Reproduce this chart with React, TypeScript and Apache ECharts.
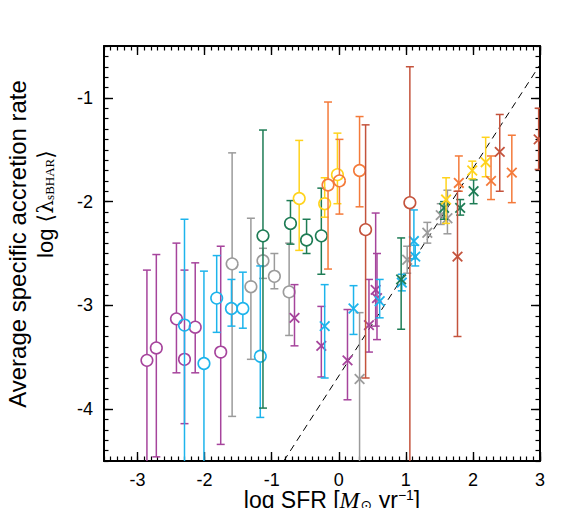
import React, { useEffect, useRef } from "react";
import * as echarts from "echarts";

// ---- axis ranges & ticks ----
const xMin = -3.5;
const xMax = 3;
const yMin = -4.5;
const yMax = -0.5;
const xMajorTicks = [-3, -2, -1, 0, 1, 2, 3];
const yMajorTicks = [-4, -3, -2, -1];

// ---- data: [logSFR, log<lambda>, lower, upper] ----
const purpleCircles = [
  [-2.86, -3.53, -5.0, -2.66],
  [-2.72, -3.41, -4.46, -2.51],
  [-2.42, -3.13, -3.65, -2.4],
  [-2.3, -3.52, -4.14, -2.66],
  [-2.14, -3.21, -3.65, -2.59],
  [-1.76, -3.45, -4.34, -2.43],
];
const purpleCrosses = [
  [-0.66, -3.12, -3.39, -2.8],
  [-0.26, -3.39, -3.69, -3.01],
  [0.13, -3.53, -3.91, -3.04],
  [0.45, -3.19, -3.45, -2.75],
  [0.55, -2.85, -3.2, -2.11],
  [0.57, -2.93, -3.33, -2.5],
];
const cyanCircles = [
  [-2.3, -3.19, -5.0, -2.17],
  [-2.01, -3.56, -5.0, -2.67],
  [-1.82, -2.93, -3.26, -2.52],
  [-1.6, -3.03, -3.2, -2.75],
  [-1.43, -3.03, -3.22, -2.68],
  [-1.17, -3.49, -4.08, -2.62],
];
const cyanCrosses = [
  [-0.21, -3.2, -3.7, -2.8],
  [0.22, -3.03, -3.28, -2.81],
  [0.61, -2.96, -3.12, -2.75],
  [0.94, -2.78, -2.86, -2.7],
  [1.12, -2.38, -2.55, -2.08],
  [1.14, -2.53, -2.62, -2.42],
];
const grayCircles = [
  [-1.59, -2.6, -4.07, -1.53],
  [-1.31, -2.82, -3.52, -2.16],
  [-1.13, -2.57, -2.74, -2.45],
  [-0.96, -2.72, -2.84, -2.5],
  [-0.74, -2.87, -3.29, -2.4],
];
const grayCrosses = [
  [0.31, -3.71, -5.0, -3.07],
  [1.02, -2.56, -2.69, -2.43],
  [1.32, -2.3, -2.4, -2.2],
  [1.52, -2.13, -2.22, -2.02],
  [1.62, -2.16, -2.31, -1.89],
];
const greenCircles = [
  [-1.13, -2.33, -3.99, -1.31],
  [-0.72, -2.21, -2.41, -1.99],
  [-0.48, -2.37, -2.5, -2.17],
  [-0.26, -2.33, -2.7, -1.87],
];
const greenCrosses = [
  [0.93, -2.75, -3.23, -2.35],
  [1.57, -2.06, -2.17, -2.0],
  [1.81, -2.06, -2.13, -1.98],
  [2.01, -1.9, -2.02, -1.79],
];
const yellowCircles = [
  [-0.59, -1.97, -2.47, -1.41],
  [-0.21, -2.02, -2.15, -1.77],
  [-0.02, -1.74, -2.02, -1.34],
];
const yellowCrosses = [
  [1.6, -1.98, -2.21, -1.77],
  [1.99, -1.7, -1.78, -1.61],
  [2.19, -1.62, -1.76, -1.38],
];
const orangeCircles = [
  [-0.16, -1.84, -2.65, -1.04],
  [0.01, -1.8, -2.12, -1.4],
  [0.31, -1.7, -2.05, -1.18],
];
const orangeCrosses = [
  [1.79, -1.82, -1.9, -1.56],
  [2.27, -1.8, -1.98, -1.56],
  [2.58, -1.72, -2.01, -1.36],
];
const brickCircles = [
  [0.4, -2.27, -3.7, -1.26],
  [1.06, -2.01, -5.0, -0.7],
];
const brickCrosses = [
  [1.77, -2.53, -3.3, -1.9],
  [2.4, -1.52, -1.9, -1.16],
  [2.98, -1.4, -1.69, -1.1],
];
// dashed one-to-one relation
const relationX = [-0.82, 3.0];
const relationY = [-4.5, -0.68];

const COLORS = {
  purple: "#A6449C",
  cyan: "#1DB4EC",
  gray: "#9B9B9B",
  green: "#1E7C55",
  yellow: "#FFD31C",
  orange: "#F47A3A",
  brick: "#C4533C",
};

function makeRender(color: string, marker: "circle" | "cross") {
  return (params: any, api: any) => {
    const x = api.value(0);
    const y = api.value(1);
    const lo = api.value(2);
    const hi = api.value(3);
    const c = api.coord([x, y]);
    const pLo = api.coord([x, lo]);
    const pHi = api.coord([x, hi]);
    const cap = 4;
    const r = 5.8;
    const s = 4.8;
    const st = { stroke: color, lineWidth: 1.5, fill: "none" };
    const children: any[] = [];
    if (marker === "circle") {
      children.push({ type: "line", shape: { x1: c[0], y1: pHi[1], x2: c[0], y2: c[1] - r }, style: st });
      children.push({ type: "line", shape: { x1: c[0], y1: c[1] + r, x2: c[0], y2: pLo[1] }, style: st });
    } else {
      children.push({ type: "line", shape: { x1: c[0], y1: pHi[1], x2: c[0], y2: pLo[1] }, style: st });
    }
    children.push({ type: "line", shape: { x1: c[0] - cap, y1: pHi[1], x2: c[0] + cap, y2: pHi[1] }, style: st });
    children.push({ type: "line", shape: { x1: c[0] - cap, y1: pLo[1], x2: c[0] + cap, y2: pLo[1] }, style: st });
    if (marker === "circle") {
      children.push({ type: "circle", shape: { cx: c[0], cy: c[1], r }, style: { stroke: color, lineWidth: 1.6, fill: "none" } });
    } else {
      const cs = { stroke: color, lineWidth: 1.8 };
      children.push({ type: "line", shape: { x1: c[0] - s, y1: c[1] - s, x2: c[0] + s, y2: c[1] + s }, style: cs });
      children.push({ type: "line", shape: { x1: c[0] - s, y1: c[1] + s, x2: c[0] + s, y2: c[1] - s }, style: cs });
    }
    return { type: "group", children };
  };
}

function errSeries(name: string, data: number[][], color: string, marker: "circle" | "cross") {
  return {
    name,
    type: "custom",
    xAxisIndex: 0,
    yAxisIndex: 0,
    clip: true,
    renderItem: makeRender(color, marker),
    encode: { x: 0, y: 1 },
    data,
    z: 3,
  };
}

const tickLabelFont = "'Liberation Sans', Arial, Helvetica, sans-serif";

function minorX(position: string) {
  return {
    type: "value",
    min: xMin,
    max: xMax,
    interval: 0.1,
    position,
    axisLine: { show: true, onZero: false, lineStyle: { color: "#000", width: 2 } },
    axisTick: { show: true, inside: true, length: 4.5, lineStyle: { color: "#000", width: 1.2 } },
    axisLabel: { show: false },
    splitLine: { show: false },
  };
}
function majorX(position: string, labels: boolean) {
  return {
    type: "value",
    min: xMin,
    max: xMax,
    position,
    axisLine: { show: false, onZero: false },
    axisTick: { show: true, inside: true, length: 9, customValues: xMajorTicks, lineStyle: { color: "#000", width: 1.4 } },
    axisLabel: {
      show: labels,
      customValues: xMajorTicks,
      margin: 10,
      fontSize: 18,
      color: "#000",
      fontFamily: tickLabelFont,
    },
    splitLine: { show: false },
  };
}
function minorY(position: string) {
  return {
    type: "value",
    min: yMin,
    max: yMax,
    interval: 0.1,
    position,
    axisLine: { show: true, onZero: false, lineStyle: { color: "#000", width: 2 } },
    axisTick: { show: true, inside: true, length: 4.5, lineStyle: { color: "#000", width: 1.2 } },
    axisLabel: { show: false },
    splitLine: { show: false },
  };
}
function majorY(position: string, labels: boolean) {
  return {
    type: "value",
    min: yMin,
    max: yMax,
    position,
    axisLine: { show: false, onZero: false },
    axisTick: { show: true, inside: true, length: 9, customValues: yMajorTicks, lineStyle: { color: "#000", width: 1.4 } },
    axisLabel: {
      show: labels,
      customValues: yMajorTicks,
      margin: 11,
      fontSize: 18,
      color: "#000",
      fontFamily: tickLabelFont,
    },
    splitLine: { show: false },
  };
}

export default function App() {
  const ref = useRef<HTMLDivElement>(null);
  useEffect(() => {
    document.body.style.margin = "0";
    if (!ref.current) return;
    const chart = echarts.init(ref.current, null, { renderer: "svg" });
    const option: any = {
      animation: false,
      backgroundColor: "#fff",
      grid: { left: 104, right: 28, top: 46, bottom: 47 },
      xAxis: [minorX("bottom"), majorX("bottom", true), minorX("top"), majorX("top", false)],
      yAxis: [minorY("left"), majorY("left", true), minorY("right"), majorY("right", false)],
      series: [
        {
          type: "line",
          xAxisIndex: 0,
          yAxisIndex: 0,
          data: relationX.map((v, i) => [v, relationY[i]]),
          symbol: "none",
          lineStyle: { color: "#000", width: 1, type: [7, 5] },
          z: 2,
        },
        errSeries("gray circles", grayCircles, COLORS.gray, "circle"),
        errSeries("gray crosses", grayCrosses, COLORS.gray, "cross"),
        errSeries("purple circles", purpleCircles, COLORS.purple, "circle"),
        errSeries("purple crosses", purpleCrosses, COLORS.purple, "cross"),
        errSeries("cyan circles", cyanCircles, COLORS.cyan, "circle"),
        errSeries("cyan crosses", cyanCrosses, COLORS.cyan, "cross"),
        errSeries("green circles", greenCircles, COLORS.green, "circle"),
        errSeries("green crosses", greenCrosses, COLORS.green, "cross"),
        errSeries("yellow circles", yellowCircles, COLORS.yellow, "circle"),
        errSeries("yellow crosses", yellowCrosses, COLORS.yellow, "cross"),
        errSeries("orange circles", orangeCircles, COLORS.orange, "circle"),
        errSeries("orange crosses", orangeCrosses, COLORS.orange, "cross"),
        errSeries("brick circles", brickCircles, COLORS.brick, "circle"),
        errSeries("brick crosses", brickCrosses, COLORS.brick, "cross"),
      ],
      graphic: [
        {
          type: "text",
          x: 17,
          y: 244,
          rotation: Math.PI / 2,
          style: {
            text: "Average specific accretion rate",
            fontSize: 24,
            fontFamily: tickLabelFont,
            fill: "#000",
            align: "center",
            verticalAlign: "middle",
          },
        },
        {
          type: "text",
          x: 45,
          y: 204,
          rotation: Math.PI / 2,
          style: {
            text: "{a|log }{b|⟨λ}{s|sBHAR}{b|⟩}",
            align: "center",
            verticalAlign: "middle",
            fill: "#000",
            rich: {
              a: { fontSize: 22, fontFamily: tickLabelFont, fill: "#000" },
              b: { fontSize: 22, fontFamily: "'DejaVu Serif', 'Liberation Serif', serif", fill: "#000" },
              s: { fontSize: 13, fontFamily: "'Liberation Serif', serif", fill: "#000", verticalAlign: "bottom", padding: [8, 0, 0, 0] },
            },
          },
        },
        {
          type: "text",
          x: 332,
          y: 500,
          style: {
            text: "{a|log SFR [}{m|M}{s|⊙}{a| yr}{p|−1}{a|]}",
            align: "center",
            verticalAlign: "middle",
            fill: "#000",
            rich: {
              a: { fontSize: 23, fontFamily: tickLabelFont, fill: "#000" },
              m: { fontSize: 24, fontFamily: "'Liberation Serif', serif", fontStyle: "italic", fill: "#000", padding: [0, 1, 0, 0] },
              s: { fontSize: 14, fontFamily: "'DejaVu Sans', sans-serif", fill: "#000", verticalAlign: "bottom", padding: [10, 0, 0, 0] },
              p: { fontSize: 14, fontFamily: tickLabelFont, fill: "#000", verticalAlign: "top", padding: [0, 0, 10, 0] },
            },
          },
        },
      ],
    };
    chart.setOption(option);
    return () => chart.dispose();
  }, []);
  return <div ref={ref} style={{ width: 568, height: 508 }} />;
}
